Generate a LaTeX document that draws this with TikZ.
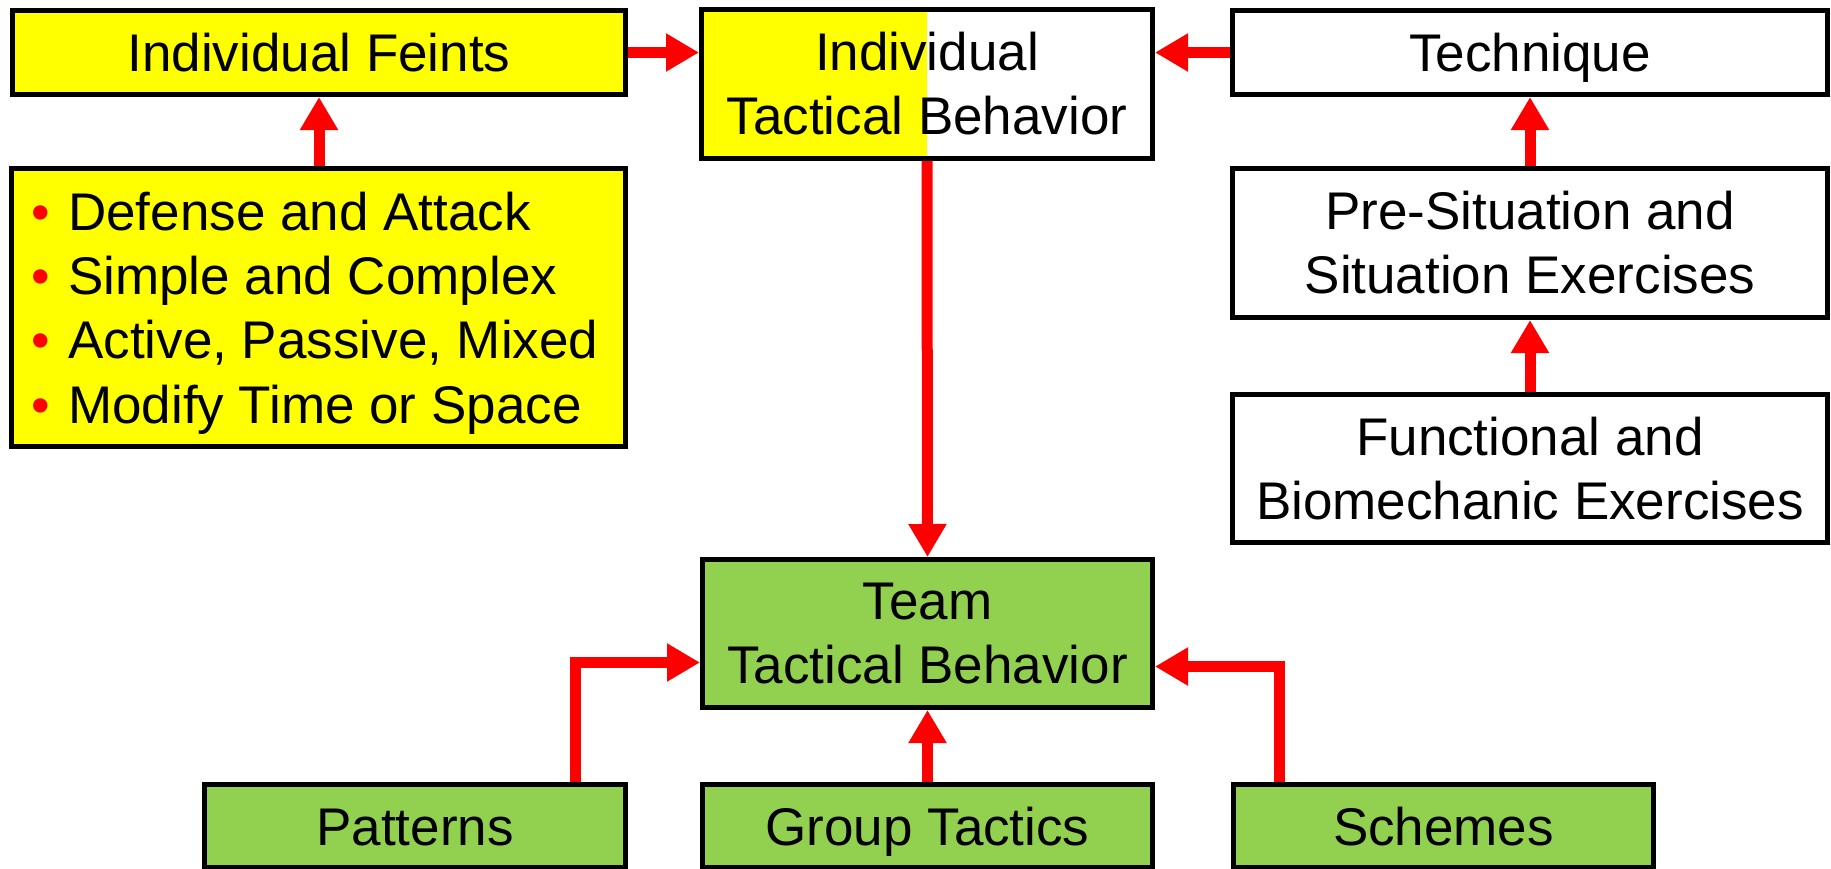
\documentclass[tikz,border=0pt]{standalone}
\usepackage{fontspec}
\setmainfont{Liberation Sans}
\usetikzlibrary{arrows.meta,calc}
\definecolor{fyellow}{HTML}{FFFF00}
\definecolor{fgreen}{HTML}{92D050}
\definecolor{fred}{HTML}{FF0000}
\begin{document}
\begin{tikzpicture}[x=1pt,y=-1pt,
  box/.style={draw=black, line width=5pt, inner sep=0pt, align=center,
    font=\fontsize{53}{64}\selectfont, line join=miter},
  one/.style={text height=38pt, text depth=0pt},
  bitem/.style={anchor=base west, inner sep=0pt, font=\fontsize{53}{64}\selectfont},
  arr/.style={draw=fred, line width=11pt, line join=miter,
    -{Triangle[length=33pt,width=36pt]}},
  halfyellow/.style={path picture={\fill[fyellow] (path picture bounding box.north west) rectangle (path picture bounding box.south);}}
  ]
\useasboundingbox (0,0) rectangle (1831,868);

% top row
\node[box, one, fill=fyellow, minimum width=613pt, minimum height=84pt] (feints) at (319,52.5) {Individual Feints};
\node[box, halfyellow, fill=white, minimum width=451pt, minimum height=149pt] (itb) at (927,84) {Individual\\Tactical Behavior};
\node[box, one, fill=white, minimum width=595pt, minimum height=84pt] (tech) at (1530,52.5) {Technique};

% bullet box
\node[box, fill=fyellow, minimum width=614pt, minimum height=278pt] (bul) at (318.5,307.5) {};
\node[bitem] (b1) at (31,230) {\makebox[37pt][l]{\textcolor{fred}{•}}Defense and Attack};
\node[bitem] (b2) at (31,294) {\makebox[37pt][l]{\textcolor{fred}{•}}Simple and Complex};
\node[bitem] (b3) at (31,358.5) {\makebox[37pt][l]{\textcolor{fred}{•}}Active, Passive, Mixed};
\node[bitem] (b4) at (31,423) {\makebox[37pt][l]{\textcolor{fred}{•}}Modify Time or Space};

% right column
\node[box, fill=white, minimum width=595pt, minimum height=149pt] (pre) at (1530,243) {Pre-Situation and\\Situation Exercises};
\node[box, fill=white, minimum width=595pt, minimum height=148pt] (func) at (1530,468.5) {Functional and\\Biomechanic Exercises};

% team
\node[box, fill=fgreen, minimum width=450pt, minimum height=148pt] (team) at (927.5,633.5) {Team\\Tactical Behavior};

% bottom row
\node[box, one, fill=fgreen, minimum width=421pt, minimum height=83pt] (pat) at (415,826) {Patterns};
\node[box, one, fill=fgreen, minimum width=450pt, minimum height=83pt] (grp) at (927.5,826) {Group Tactics};
\node[box, one, fill=fgreen, minimum width=420pt, minimum height=83pt] (sch) at (1443.5,826) {Schemes};

% connector helper coordinates
\coordinate (pe) at (575.5,662.5);
\coordinate (se) at (1279.5,666.5);

% arrows
\draw[arr] (feints.east) -- (feints.east -| itb.west);
\draw[arr] (tech.west) -- (tech.west -| itb.east);
\draw[arr] (bul.north -| feints.south) -- (feints.south);
\draw[arr] (itb.south) -- (team.north);
\draw[arr] (pre.north) -- (tech.south);
\draw[arr] (func.north) -- (pre.south);
\draw[arr] (grp.north) -- (team.south);
\draw[arr] (pat.north -| pe) |- (team.west |- pe);
\draw[arr] (sch.north -| se) |- (team.east |- se);
\end{tikzpicture}
\end{document}
